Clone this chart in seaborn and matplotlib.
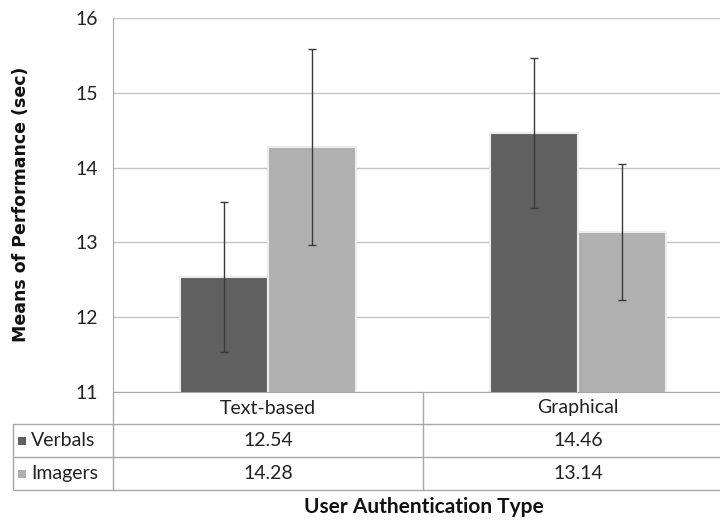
import matplotlib
matplotlib.use("Agg")
import matplotlib.pyplot as plt
import matplotlib.transforms as mtransforms
from matplotlib.lines import Line2D
from matplotlib.patches import Rectangle
import seaborn as sns
import pandas as pd

categories = ["Text-based", "Graphical"]
groups = ["Verbals", "Imagers"]
verbals = [12.54, 14.46]
imagers = [14.28, 13.14]
verbals_lo = [11.54, 13.46]
verbals_hi = [13.54, 15.46]
imagers_lo = [12.97, 12.23]
imagers_hi = [15.58, 14.05]
y_ticks = [11, 12, 13, 14, 15, 16]
colors = {"Verbals": "#606060", "Imagers": "#b0b0b0"}

df = pd.DataFrame({
    "cat": categories * 2,
    "group": ["Verbals"] * 2 + ["Imagers"] * 2,
    "val": verbals + imagers,
})
lo = {"Verbals": verbals_lo, "Imagers": imagers_lo}
hi = {"Verbals": verbals_hi, "Imagers": imagers_hi}
vals = {"Verbals": verbals, "Imagers": imagers}

sns.set_style("white")
plt.rcParams["font.family"] = ["Lato", "DejaVu Sans"]

fig = plt.figure(figsize=(7.2, 5.2), dpi=100)
W, H = 720, 520
ax = fig.add_axes([113 / W, 1 - 392 / H, 620 / W, 374 / H])

sns.barplot(data=df, x="cat", y="val", hue="group", order=categories,
            hue_order=groups, palette=colors, width=0.57, errorbar=None,
            edgecolor="#ececec", linewidth=1.5, ax=ax, legend=False, zorder=3)

# error bars from bar positions
containers = ax.containers
for g, cont in zip(groups, containers):
    xs = [p.get_x() + p.get_width() / 2 for p in cont.patches]
    for x, v, l, h in zip(xs, vals[g], lo[g], hi[g]):
        ax.errorbar([x], [v], yerr=[[v - l], [h - v]], fmt="none",
                    ecolor="#3a3a3a", elinewidth=1.0, capsize=3, capthick=1.0,
                    zorder=5)

ax.set_ylim(11, 16)
ax.set_xlim(-0.5, 1.5)
ax.set_yticks(y_ticks)
ax.set_yticklabels([str(t) for t in y_ticks], fontsize=14, color="#222222")
ax.set_xticks([])
ax.set_xlabel("")
ax.set_ylabel("")
ax.yaxis.grid(True, color="#c4c4c4", linewidth=1.0, zorder=0)
ax.set_axisbelow(True)
for s in ["top", "right"]:
    ax.spines[s].set_visible(False)
ax.spines["left"].set_color("#a8a8a8")
ax.spines["bottom"].set_color("#a8a8a8")
ax.tick_params(axis="y", length=5, color="#a8a8a8", direction="out", pad=6)

# y label
fig.text(21 / W, 1 - 204 / H, "Means of Performance (sec)", rotation=90,
         ha="center", va="center", fontsize=12.5, fontweight="bold",
         family="DejaVu Sans", color="#111111")

# data table below axes
def fy(py):
    return 1 - py / H

def fx(px):
    return px / W

lc = "#a8a8a8"
for py in [424, 457, 490]:
    fig.add_artist(Line2D([fx(13), 1], [fy(py), fy(py)], color=lc, lw=1.0,
                          transform=fig.transFigure))
fig.add_artist(Line2D([fx(13), fx(13)], [fy(424), fy(490)], color=lc, lw=1.0,
                      transform=fig.transFigure))
fig.add_artist(Line2D([fx(113), fx(113)], [fy(392), fy(490)], color=lc, lw=1.0,
                      transform=fig.transFigure))
# category divider (between category 0 and 1 in data coords)
bt = mtransforms.blended_transform_factory(ax.transData, fig.transFigure)
fig.add_artist(Line2D([0.5, 0.5], [fy(392), fy(490)], color=lc, lw=1.0,
                      transform=bt))

for i, c in enumerate(categories):
    fig.text(i, fy(408), c, transform=bt, ha="center", va="center",
             fontsize=14, color="#222222")
row_y = {"Verbals": 440.5, "Imagers": 473.5}
for g in groups:
    for i in range(len(categories)):
        fig.text(i, fy(row_y[g]), f"{vals[g][i]:.2f}", transform=bt,
                 ha="center", va="center", fontsize=14, color="#222222")
    fig.add_artist(Rectangle((fx(18), fy(row_y[g]) - 4 / H), 8 / W, 8 / H,
                             facecolor=colors[g], edgecolor="none",
                             transform=fig.transFigure))
    fig.text(fx(31), fy(row_y[g]), g, ha="left", va="center", fontsize=14,
             color="#222222")

fig.text(fx(424), fy(507), "User Authentication Type", ha="center",
         va="center", fontsize=15, fontweight="bold", color="#111111")

fig.savefig("out.png", dpi=100)
